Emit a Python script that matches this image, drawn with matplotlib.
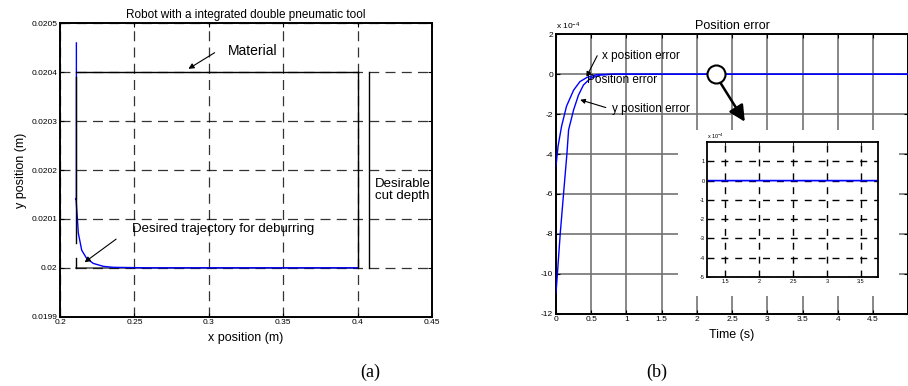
import matplotlib.pyplot as plt
from matplotlib.patches import Rectangle

plt.rcParams['font.family'] = ['Liberation Sans', 'DejaVu Sans']
plt.rcParams['mathtext.default'] = 'regular'
plt.rcParams['axes.unicode_minus'] = False

# ---- (a) trajectory data ----
mat_top_x = [0.2105, 0.4]
mat_top_y = [0.0204, 0.0204]
mat_left_x = [0.2105, 0.2105]
mat_left_y = [0.02039, 0.02005]
mat_left2_y = [0.02002, 0.0200]
mat_right_x = [0.4, 0.4]
mat_right_y = [0.0204, 0.0200]
desired_x = [0.2105, 0.4]
desired_y = [0.0200, 0.0200]
depth_x = [0.4079, 0.4079]
depth_y = [0.0204, 0.0200]

robot_x = [0.2110, 0.2110, 0.21075, 0.2123, 0.21458, 0.21794, 0.22238, 0.2291, 0.2358, 0.26, 0.4]
robot_y = [0.02046, 0.02014, 0.020142, 0.020071, 0.020036, 0.020019, 0.020009, 0.020003, 0.020001, 0.0200, 0.0200]

# ---- (b) position error data (x 1e-4) ----
t_x = [0, 0.03, 0.08, 0.15, 0.25, 0.34, 0.44, 0.58, 0.8, 5.0]
err_x = [-4.6, -3.6, -2.6, -1.6, -0.8, -0.37, -0.16, -0.02, 0.0, 0.0]
t_y = [0, 0.061, 0.108, 0.156, 0.179, 0.25, 0.32, 0.39, 0.49, 0.63, 0.82, 5.0]
err_y = [-11.0, -7.97, -5.97, -3.96, -2.79, -1.79, -1.04, -0.54, -0.2, -0.04, 0.0, 0.0]

fig = plt.figure(figsize=(9.08, 3.86), dpi=100)

# ================= (a) =================
ax1 = fig.add_axes([0.0661, 0.1795, 0.4097, 0.760])
ax1.plot(robot_x, robot_y, color='#0000ff', lw=1.0, zorder=2)
ax1.plot(mat_top_x, mat_top_y, color='k', lw=1.0, zorder=3)
ax1.plot(mat_left_x, mat_left_y, color='k', lw=1.0, zorder=3)
ax1.plot(mat_left_x, mat_left2_y, color='k', lw=1.0, zorder=3)
ax1.plot(mat_right_x, mat_right_y, color='k', lw=1.0, zorder=3)
ax1.plot(desired_x, desired_y, color='0.35', lw=1.2, zorder=1)
ax1.plot(depth_x, depth_y, color='k', lw=1.0, zorder=3)

ax1.set_xlim(0.2, 0.45)
ax1.set_ylim(0.0199, 0.0205)
ax1.set_xticks([0.2, 0.25, 0.3, 0.35, 0.4, 0.45])
ax1.set_xticklabels(['0.2', '0.25', '0.3', '0.35', '0.4', '0.45'])
ax1.set_yticks([0.0199, 0.0200, 0.0201, 0.0202, 0.0203, 0.0204, 0.0205])
ax1.set_yticklabels(['0.0199', '0.02', '0.0201', '0.0202', '0.0203', '0.0204', '0.0205'])
ax1.tick_params(direction='in', length=3, width=0.8, labelsize=6, top=True, right=True, pad=2)
ax1.grid(True, color='k', lw=0.9, linestyle=(0, (8, 5)), alpha=0.8)
for s in ax1.spines.values():
    s.set_linewidth(1.4)
ax1.set_title('Robot with a integrated double pneumatic tool', fontsize=8.5, pad=4)
ax1.set_xlabel('x position (m)', fontsize=9, labelpad=4)
ax1.set_ylabel('y position (m)', fontsize=9, labelpad=3)

ax1.annotate('', xy=(0.2847, 0.020404), xytext=(0.3055, 0.020443),
             arrowprops=dict(arrowstyle='-|>', color='k', lw=0.8, mutation_scale=8))
ax1.text(0.3129, 0.020444, 'Material', fontsize=10, va='center', ha='left')
ax1.annotate('', xy=(0.2150, 0.020008), xytext=(0.2392, 0.020062),
             arrowprops=dict(arrowstyle='-|>', color='k', lw=0.8, mutation_scale=8))
ax1.text(0.2482, 0.020079, 'Desired trajectory for deburring', fontsize=9.5, va='center', ha='left')
ax1.text(0.4117, 0.02016, 'Desirable\ncut depth', fontsize=9.5, va='center', ha='left',
         linespacing=1.0)

# ================= (b) =================
ax2 = fig.add_axes([0.6123, 0.1873, 0.3880, 0.7238])
ax2.plot(t_x, err_x, color='#0000ff', lw=1.0, zorder=3)
ax2.plot(t_y, err_y, color='#0000ff', lw=1.0, zorder=3)
ax2.set_xlim(0, 5)
ax2.set_ylim(-12, 2)
ax2.set_xticks([0, 0.5, 1, 1.5, 2, 2.5, 3, 3.5, 4, 4.5])
ax2.set_xticklabels(['0', '0.5', '1', '1.5', '2', '2.5', '3', '3.5', '4', '4.5'])
ax2.set_yticks([-12, -10, -8, -6, -4, -2, 0, 2])
ax2.tick_params(direction='in', length=3, width=0.8, labelsize=6, top=True, right=True, pad=2)
ax2.grid(True, color='0.45', lw=1.2, linestyle='-')
for s in ax2.spines.values():
    s.set_linewidth(1.4)
ax2.set_title('Position error', fontsize=9, pad=4)
ax2.set_xlabel('Time (s)', fontsize=9, labelpad=4)
ax2.text(0.0, 1.01, 'x 10$^{-4}$', transform=ax2.transAxes, fontsize=6, va='bottom', ha='left')

ax2.annotate('', xy=(0.415, -0.25), xytext=(0.603, 1.05),
             arrowprops=dict(arrowstyle='-|>', color='k', lw=0.8, mutation_scale=7))
ax2.text(0.651, 0.913, 'x position error', fontsize=8.5, va='center', ha='left')
ax2.text(0.44, -0.29, 'Position error', fontsize=8.5, va='center', ha='left')
ax2.annotate('', xy=(0.306, -1.24), xytext=(0.745, -1.71),
             arrowprops=dict(arrowstyle='-|>', color='k', lw=0.8, mutation_scale=7))
ax2.text(0.793, -1.76, 'y position error', fontsize=8.5, va='center', ha='left')

# zoom marker and arrow
ax2.annotate('', xy=(2.68, -2.38), xytext=(2.32, -0.35),
             arrowprops=dict(arrowstyle='-|>', color='k', lw=1.8, mutation_scale=24,
                             shrinkA=0, shrinkB=0), zorder=4)
ax2.plot([2.27], [0], marker='o', ms=13, mfc='white', mec='k', mew=1.5, zorder=5)

# white box behind inset
fig.add_artist(Rectangle((678 / 908, (386 - 296) / 386), 221 / 908, 166 / 386,
                         transform=fig.transFigure, facecolor='white', edgecolor='none',
                         zorder=1))

ax3 = fig.add_axes([0.7786, 0.2824, 0.1883, 0.3497], zorder=2)
ax3.plot(t_x, err_x, color='#0000ff', lw=1.0)
ax3.plot(t_y, err_y, color='#0000ff', lw=1.0)
ax3.set_xlim(1.235, 3.75)
ax3.set_ylim(-5, 2)
ax3.set_xticks([1.5, 2, 2.5, 3, 3.5])
ax3.set_xticklabels(['1.5', '2', '2.5', '3', '3.5'])
ax3.set_yticks([-5, -4, -3, -2, -1, 0, 1])
ax3.tick_params(direction='in', length=2, width=0.6, labelsize=4, top=True, right=True, pad=1.5)
ax3.grid(True, color='k', lw=1.0, linestyle=(0, (5, 5)))
for s in ax3.spines.values():
    s.set_linewidth(1.3)
ax3.text(0.0, 1.01, 'x 10$^{-4}$', transform=ax3.transAxes, fontsize=4, va='bottom', ha='left')

fig.text(370 / 908, 1 - 372 / 386, '(a)', fontsize=13, family=['Liberation Serif', 'DejaVu Serif'],
         ha='center', va='center')
fig.text(657 / 908, 1 - 372 / 386, '(b)', fontsize=13, family=['Liberation Serif', 'DejaVu Serif'],
         ha='center', va='center')

fig.savefig('out.png', dpi=100)
